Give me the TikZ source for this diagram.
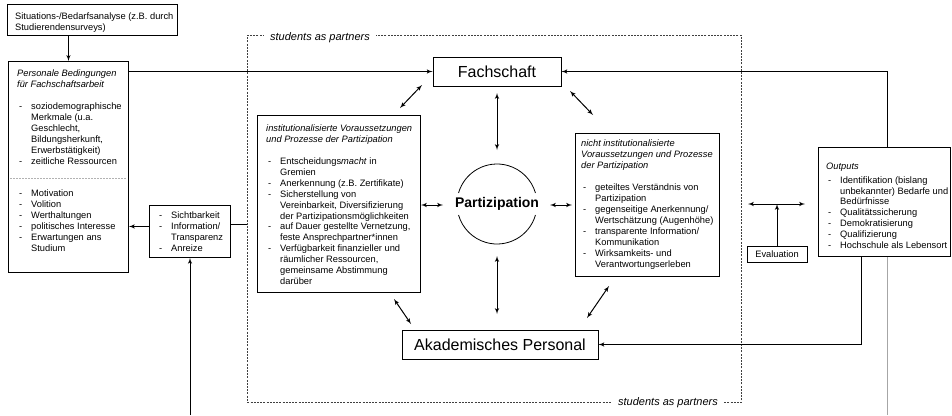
\documentclass[tikz,border=0pt]{standalone}
\usepackage{fontspec}
\setmainfont{Liberation Sans}
\usetikzlibrary{positioning, arrows}

\newcommand{\itm}{\makebox[14pt][l]{\hspace{2pt}-}}
\newcommand{\cnt}{\hspace*{14pt}}

\begin{document}
\begin{tikzpicture}[x=1pt, y=-1pt, >=latex',
    box/.style={draw, line width=0.9pt, inner sep=0pt, anchor=north west},
    txt/.style={anchor=north west, align=left, inner sep=0pt, font=\fontsize{9.3}{10.9}\selectfont},
    actor/.style={draw, line width=0.9pt, inner sep=0pt, minimum height=29pt, font=\fontsize{16}{19}\selectfont},
    link/.style={line width=1pt},
    sapframe/.style={draw=black!75, line width=0.8pt, dash pattern=on 2pt off 1.2pt, inner sep=0pt, anchor=north west},
    saplabel/.style={fill=white, inner xsep=6pt, inner ysep=1pt, font=\fontsize{11}{13}\selectfont\itshape}]

    \useasboundingbox (0,0) rectangle (952,415);

    % students as partners
    \node[sapframe, minimum width=494pt, minimum height=367pt] (sap) at (247,35) {};
    \node[saplabel] (saptop) at (320,37.5) {students as partners};
    \node[saplabel] (sapbot) at (668,402.5) {students as partners};

    % left column
    \node[box, minimum width=170pt, minimum height=31pt] (sit) at (7,4) {};
    \node[txt] (sittext) at ([shift={(8,8.2)}]sit.north west) {Situations-/Bedarfsanalyse (z.B. durch\\Studierendensurveys)};

    \node[box, minimum width=120pt, minimum height=211pt] (pers) at (8,61) {};
    \node[txt] (perstext) at ([shift={(9,8.2)}]pers.north west) {%
        \textit{Personale Bedingungen}\\
        \textit{für Fachschaftsarbeit}\\[12pt]
        \itm soziodemographische\\
        \cnt Merkmale (u.a.\\
        \cnt Geschlecht,\\
        \cnt Bildungsherkunft,\\
        \cnt Erwerbstätigkeit)\\
        \itm zeitliche Ressourcen\\[21.5pt]
        \itm Motivation\\
        \itm Volition\\
        \itm Werthaltungen\\
        \itm politisches Interesse\\
        \itm Erwartungen ans\\
        \cnt Studium};
    \draw[gray!60, line width=0.6pt, dash pattern=on 2pt off 1pt] ([shift={(2,117)}]pers.north west) -- ([shift={(-2,117)}]pers.north east);

    \node[box, minimum width=81pt, minimum height=52pt] (sicht) at (149,205) {};
    \node[txt] (sichttext) at ([shift={(8,6.5)}]sicht.north west) {%
        \itm Sichtbarkeit\\
        \itm Information/\\
        \cnt Transparenz\\
        \itm Anreize};

    % middle
    \node[actor, minimum width=128pt] (fach) at (497,71.5) {Fachschaft};
    \node[actor, minimum width=196pt] (akad) at (500,344.5) {Akademisches Personal};

    \node[box, minimum width=163pt, minimum height=177pt] (inst) at (257,115) {};
    \node[txt] (insttext) at ([shift={(9,9.8)}]inst.north west) {%
        \textit{institutionalisierte Voraussetzungen}\\
        \textit{und Prozesse der Partizipation}\\[11pt]
        \itm Entscheidungs\textit{macht} in\\
        \cnt Gremien\\
        \itm Anerkennung (z.B. Zertifikate)\\
        \itm Sicherstellung von\\
        \cnt Vereinbarkeit, Diversifizierung\\
        \cnt der Partizipationsmöglichkeiten\\
        \itm auf Dauer gestellte Vernetzung,\\
        \cnt feste Ansprechpartner*innen\\
        \itm Verfügbarkeit finanzieller und\\
        \cnt räumlicher Ressourcen,\\
        \cnt gemeinsame Abstimmung\\
        \cnt darüber};

    \node[font=\fontsize{14}{17}\selectfont\bfseries] (part) at (497,204) {Partizipation};
    \draw[line width=0.8pt] ([shift={(16:40)}]part.center) arc[start angle=16, end angle=164, radius=40];
    \draw[line width=0.8pt] ([shift={(196:40)}]part.center) arc[start angle=196, end angle=344, radius=40];

    \node[box, minimum width=144pt, minimum height=143pt] (nicht) at (575,133) {};
    \node[txt] (nichttext) at ([shift={(6,6.8)}]nicht.north west) {%
        \textit{nicht institutionalisierte}\\
        \textit{Voraussetzungen und Prozesse}\\
        \textit{der Partizipation}\\[11.5pt]
        \itm geteiltes Verständnis von\\
        \cnt Partizipation\\
        \itm gegenseitige Anerkennung/\\
        \cnt Wertschätzung (Augenhöhe)\\
        \itm transparente Information/\\
        \cnt Kommunikation\\
        \itm Wirksamkeits- und\\
        \cnt Verantwortungserleben};

    % right column
    \node[draw, line width=0.9pt, inner sep=0pt, minimum width=60pt, minimum height=15.5pt, font=\fontsize{9.3}{10.9}\selectfont] (eval) at (777,254.5) {Evaluation};

    \node[box, minimum width=132pt, minimum height=109pt] (out) at (818,147) {};
    \node[txt] (outtext) at ([shift={(8,16.2)}]out.north west) {%
        \textit{Outputs}\\[2.4pt]
        \itm Identifikation (bislang\\
        \cnt unbekannter) Bedarfe und\\
        \cnt Bedürfnisse\\
        \itm Qualitätssicherung\\
        \itm Demokratisierung\\
        \itm Qualifizierung\\
        \itm Hochschule als Lebensort};

    % free ends
    \coordinate (rxo) at (887,0);
    \coordinate (rxa) at (861,0);
    \coordinate (loopL) at (190,415);
    \coordinate (loopR) at (887,415);
    \coordinate (sichtL) at ([yshift=5pt]sicht.west);
    \coordinate (sichtR) at ([yshift=7pt]sicht.east);
    \coordinate (fi1) at (400,108);  \coordinate (fi2) at (422,85);
    \coordinate (fn1) at (570,91);   \coordinate (fn2) at (593,115);
    \coordinate (fp1) at (497,93);   \coordinate (fp2) at (497,150);
    \coordinate (ip1) at (421,205);  \coordinate (ip2) at (443,205);
    \coordinate (np1) at (550,205);  \coordinate (np2) at (572,205);
    \coordinate (ap1) at (497,256);  \coordinate (ap2) at (497,314);
    \coordinate (ai1) at (394,299);  \coordinate (ai2) at (411,324);
    \coordinate (an1) at (587,318);  \coordinate (an2) at (609,286);
    \coordinate (ev1) at (748,204);  \coordinate (ev2) at (805,204);

    % connectors
    \draw[link,->] (pers.north |- sit.south) -- (pers.north);
    \draw[link,->] (pers.east |- fach.west) -- (fach.west);
    \draw[link,->] (sichtL) -- (sichtL -| pers.east);
    \draw[link] (sichtR) -- (sichtR -| sap.west);
    \draw[link,->] (loopL) -- (loopL |- sicht.south);
    \draw[link,->] (rxo |- out.north) |- (fach.east);
    \draw[link,->] (rxa |- out.south) |- (akad.east);
    \draw[gray!70, line width=0.8pt] (rxo |- out.south) -- (loopR);
    \draw[link,->] (eval.north) -- (eval.north |- ev1);

    \foreach \a/\b in {fi1/fi2, fn1/fn2, fp1/fp2, ip1/ip2, np1/np2, ap1/ap2, ai1/ai2, an1/an2, ev1/ev2}
        \draw[link,<->] (\a) -- (\b);
\end{tikzpicture}
\end{document}
